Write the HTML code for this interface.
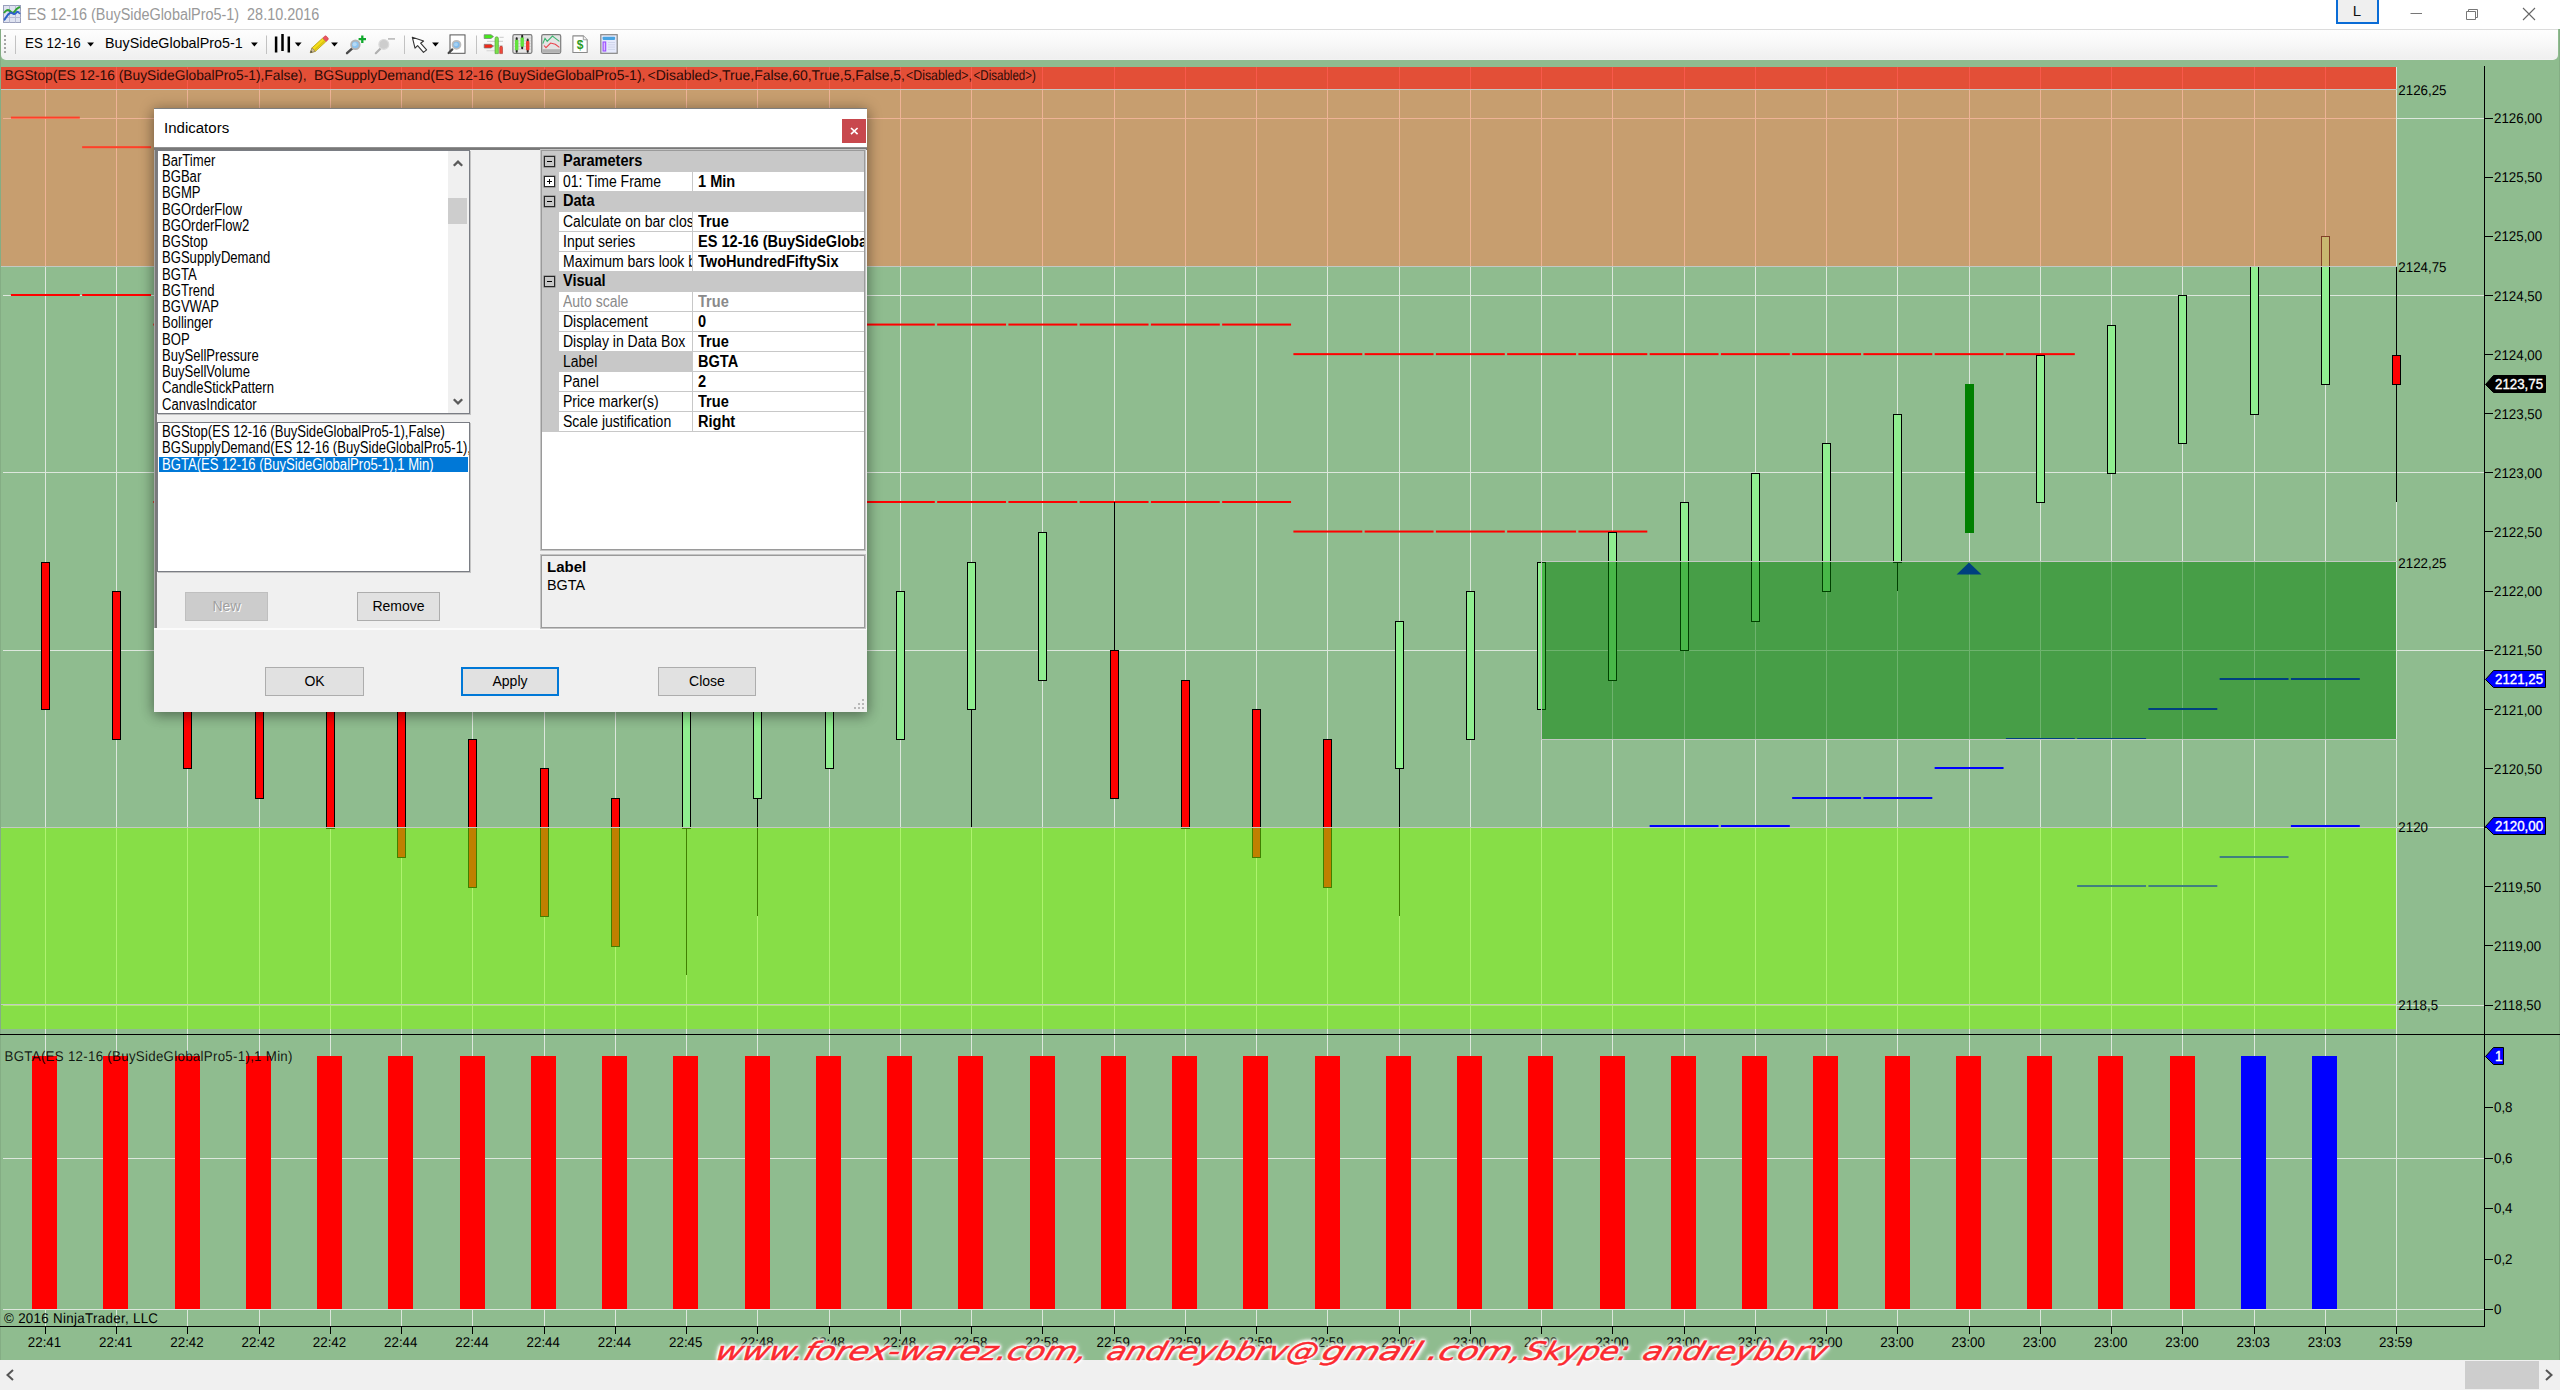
<!DOCTYPE html>
<html lang="en"><head><meta charset="utf-8"><title>ES 12-16 (BuySideGlobalPro5-1)</title>
<style>

html,body{margin:0;padding:0;}
body{width:2560px;height:1390px;overflow:hidden;position:relative;background:#fff;font-family:"Liberation Sans",sans-serif;}
.abs{position:absolute;}
.chart{position:absolute;left:0;top:0;}
#titlebar{position:absolute;left:0;top:0;width:2560px;height:29px;background:#fff;}
#title{position:absolute;left:27px;top:5px;font-size:16px;color:#999;white-space:pre;line-height:20px;transform-origin:0 50%;transform:scaleX(.9);}
#toolbar{position:absolute;left:1px;top:29px;width:2557px;height:31px;background:linear-gradient(#fefefe,#f8f8f8 45%,#efefef 96%,#f4f4f5);border-radius:0 0 5px 5px;border-top:1px solid #dcdcdc;box-sizing:border-box;}
.tbt{position:absolute;top:4px;font-size:15px;color:#000;white-space:pre;line-height:18px;transform-origin:0 50%;}
.sep{position:absolute;top:5px;width:1px;height:19px;background:#c4c4c4;}
.dd{position:absolute;top:12px;width:0;height:0;border-left:3.5px solid transparent;border-right:3.5px solid transparent;border-top:4px solid #000;}
#scroll{position:absolute;left:0;top:1360px;width:2560px;height:30px;background:#f0f0f0;}
#thumb{position:absolute;left:2465px;top:1px;width:74px;height:28px;background:#cdcdcd;}
#wm{position:absolute;left:0;top:1330.5px;width:2560px;height:40px;font-family:"DejaVu Sans","Liberation Sans",sans-serif;font-style:oblique;font-size:25.5px;line-height:40px;color:#fb2a30;-webkit-text-stroke:.5px #fb2a30;white-space:pre;text-shadow:0 0 2px #fff,0 0 2px #fff,0 0 3px #fff,0 0 3px #fff,0 0 3px #fff,0 0 4px #fff,0 0 4px #fff,0 0 5px #fff,0 0 6px #fff;}
#wm span{position:absolute;top:0;transform-origin:0 29px;}


#dlg{position:absolute;left:154px;top:109px;width:713px;height:603px;background:#f0f0f0;box-shadow:0 0 13px 1px rgba(0,0,0,.28),0 5px 12px rgba(0,0,0,.22);}
#dlg .tb{position:absolute;left:0;top:0;width:713px;height:39px;background:#fff;}
#dlg .tt{position:absolute;left:10px;top:9px;font-size:15.5px;line-height:20px;color:#000;white-space:pre;transform-origin:0 50%;transform:scaleX(.97);}
#dlg .x{position:absolute;left:688px;top:10px;width:24px;height:24px;background:#c8484d;color:#fff;text-align:center;}
#dlg .edge{position:absolute;left:0;top:38px;width:713px;height:3px;background:linear-gradient(#a0a0a0,#777 45%,#7c7c7c);}
#dlg .topb{position:absolute;left:0;top:-1px;width:713px;height:1px;background:#7e7e7e;}
.lb{position:absolute;background:#fff;border:1px solid #7a7d84;box-shadow:1px 1px 0 #c4c4c4;box-sizing:border-box;overflow:hidden;}
.li{position:absolute;left:4px;font-size:16px;line-height:16px;white-space:pre;color:#000;transform-origin:0 50%;transform:scaleX(.8175);}
.btn{position:absolute;box-sizing:border-box;border:1px solid #adadad;background:#e1e1e1;text-align:center;font-size:14px;color:#000;white-space:pre;}
.btn span{display:inline-block;}
#pg{position:absolute;left:387px;top:41px;width:324px;height:400px;background:#fff;border:1px solid #9a9a9a;box-sizing:border-box;box-shadow:0 0 0 1px #c4c4c4;overflow:hidden;}
.row{position:absolute;left:0;width:322px;height:20px;}
.cat{background:#c8c8c8;}
.gut{position:absolute;left:0;top:0;width:17px;height:100%;background:#c8c8c8;}
.lab{position:absolute;left:17px;top:0;width:133px;bottom:0;border-bottom:1px solid #c8c8c8;border-right:1px solid #c8c8c8;overflow:hidden;}
.val{position:absolute;left:151px;top:0;width:171px;bottom:0;border-bottom:1px solid #c8c8c8;overflow:hidden;}
.pt{position:absolute;top:-.5px;font-size:16px;line-height:18px;white-space:pre;transform-origin:0 50%;color:#000;transform:scaleX(.875);}
.pb{font-weight:bold;transform:scaleX(.91);}
.box{position:absolute;left:2px;top:4px;width:9px;height:9px;border:1px solid #262626;box-shadow:0 0 0 .5px rgba(40,40,40,.55);box-sizing:content-box;}
.box i{position:absolute;left:2px;top:4px;width:5px;height:1px;background:#000;}
.box b{position:absolute;left:4px;top:2px;width:1px;height:5px;background:#000;}
#desc{position:absolute;left:387px;top:446px;width:324px;height:73px;border:1px solid #9a9a9a;box-sizing:border-box;box-shadow:0 0 0 1px #c4c4c4;}

</style></head><body>
<svg class="chart" width="2560" height="1390" viewBox="0 0 2560 1390" shape-rendering="crispEdges">
<rect x="0" y="29" width="2560" height="1331" fill="#8FBC8F"/>
<path d="M45 66V1326M116 66V1326M187 66V1326M259 66V1326M330 66V1326M401 66V1326M472 66V1326M544 66V1326M615 66V1326M686 66V1326M757 66V1326M829 66V1326M900 66V1326M971 66V1326M1042 66V1326M1114 66V1326M1185 66V1326M1256 66V1326M1327 66V1326M1399 66V1326M1470 66V1326M1541 66V1326M1612 66V1326M1684 66V1326M1755 66V1326M1826 66V1326M1897 66V1326M1969 66V1326M2040 66V1326M2111 66V1326M2182 66V1326M2254 66V1326M2325 66V1326M2396 66V1326M2 118H2484M2 295H2484M2 472H2484M2 650H2484M2 827H2484M2 1005H2484M2 1158H2484M2 1309H2484" stroke="#dde7dd" stroke-width="1" fill="none" transform="translate(0.5,0.5)"/>
<rect x="32" y="1056" width="25" height="253" fill="#ff0000"/>
<rect x="103" y="1056" width="25" height="253" fill="#ff0000"/>
<rect x="175" y="1056" width="25" height="253" fill="#ff0000"/>
<rect x="246" y="1056" width="25" height="253" fill="#ff0000"/>
<rect x="317" y="1056" width="25" height="253" fill="#ff0000"/>
<rect x="388" y="1056" width="25" height="253" fill="#ff0000"/>
<rect x="460" y="1056" width="25" height="253" fill="#ff0000"/>
<rect x="531" y="1056" width="25" height="253" fill="#ff0000"/>
<rect x="602" y="1056" width="25" height="253" fill="#ff0000"/>
<rect x="673" y="1056" width="25" height="253" fill="#ff0000"/>
<rect x="745" y="1056" width="25" height="253" fill="#ff0000"/>
<rect x="816" y="1056" width="25" height="253" fill="#ff0000"/>
<rect x="887" y="1056" width="25" height="253" fill="#ff0000"/>
<rect x="958" y="1056" width="25" height="253" fill="#ff0000"/>
<rect x="1030" y="1056" width="25" height="253" fill="#ff0000"/>
<rect x="1101" y="1056" width="25" height="253" fill="#ff0000"/>
<rect x="1172" y="1056" width="25" height="253" fill="#ff0000"/>
<rect x="1243" y="1056" width="25" height="253" fill="#ff0000"/>
<rect x="1315" y="1056" width="25" height="253" fill="#ff0000"/>
<rect x="1386" y="1056" width="25" height="253" fill="#ff0000"/>
<rect x="1457" y="1056" width="25" height="253" fill="#ff0000"/>
<rect x="1528" y="1056" width="25" height="253" fill="#ff0000"/>
<rect x="1600" y="1056" width="25" height="253" fill="#ff0000"/>
<rect x="1671" y="1056" width="25" height="253" fill="#ff0000"/>
<rect x="1742" y="1056" width="25" height="253" fill="#ff0000"/>
<rect x="1813" y="1056" width="25" height="253" fill="#ff0000"/>
<rect x="1885" y="1056" width="25" height="253" fill="#ff0000"/>
<rect x="1956" y="1056" width="25" height="253" fill="#ff0000"/>
<rect x="2027" y="1056" width="25" height="253" fill="#ff0000"/>
<rect x="2098" y="1056" width="25" height="253" fill="#ff0000"/>
<rect x="2170" y="1056" width="25" height="253" fill="#ff0000"/>
<rect x="2241" y="1056" width="25" height="253" fill="#0000ff"/>
<rect x="2312" y="1056" width="25" height="253" fill="#0000ff"/>
<g shape-rendering="auto">
<rect x="10.9" y="116.6" width="68.9" height="2" fill="#ff0000"/>
<rect x="82.15" y="146.17" width="68.9" height="2" fill="#ff0000"/>
<rect x="10.9" y="294" width="68.9" height="2" fill="#ff0000"/>
<rect x="82.15" y="294" width="68.9" height="2" fill="#ff0000"/>
<rect x="153.4" y="323.57" width="68.9" height="2" fill="#ff0000"/>
<rect x="224.65" y="323.57" width="68.9" height="2" fill="#ff0000"/>
<rect x="295.9" y="323.57" width="68.9" height="2" fill="#ff0000"/>
<rect x="367.15" y="323.57" width="68.9" height="2" fill="#ff0000"/>
<rect x="438.4" y="323.57" width="68.9" height="2" fill="#ff0000"/>
<rect x="509.65" y="323.57" width="68.9" height="2" fill="#ff0000"/>
<rect x="580.9" y="323.57" width="68.9" height="2" fill="#ff0000"/>
<rect x="652.15" y="323.57" width="68.9" height="2" fill="#ff0000"/>
<rect x="723.4" y="323.57" width="68.9" height="2" fill="#ff0000"/>
<rect x="794.65" y="323.57" width="68.9" height="2" fill="#ff0000"/>
<rect x="865.9" y="323.57" width="68.9" height="2" fill="#ff0000"/>
<rect x="937.15" y="323.57" width="68.9" height="2" fill="#ff0000"/>
<rect x="1008.4" y="323.57" width="68.9" height="2" fill="#ff0000"/>
<rect x="1079.65" y="323.57" width="68.9" height="2" fill="#ff0000"/>
<rect x="1150.9" y="323.57" width="68.9" height="2" fill="#ff0000"/>
<rect x="1222.15" y="323.57" width="68.9" height="2" fill="#ff0000"/>
<rect x="1293.4" y="353.14" width="68.9" height="2" fill="#ff0000"/>
<rect x="1364.65" y="353.14" width="68.9" height="2" fill="#ff0000"/>
<rect x="1435.9" y="353.14" width="68.9" height="2" fill="#ff0000"/>
<rect x="1507.15" y="353.14" width="68.9" height="2" fill="#ff0000"/>
<rect x="1578.4" y="353.14" width="68.9" height="2" fill="#ff0000"/>
<rect x="1649.65" y="353.14" width="68.9" height="2" fill="#ff0000"/>
<rect x="1720.9" y="353.14" width="68.9" height="2" fill="#ff0000"/>
<rect x="1792.15" y="353.14" width="68.9" height="2" fill="#ff0000"/>
<rect x="1863.4" y="353.14" width="68.9" height="2" fill="#ff0000"/>
<rect x="1934.65" y="353.14" width="68.9" height="2" fill="#ff0000"/>
<rect x="2005.9" y="353.14" width="68.9" height="2" fill="#ff0000"/>
<rect x="153.4" y="500.98" width="68.9" height="2" fill="#ff0000"/>
<rect x="224.65" y="500.98" width="68.9" height="2" fill="#ff0000"/>
<rect x="295.9" y="500.98" width="68.9" height="2" fill="#ff0000"/>
<rect x="367.15" y="500.98" width="68.9" height="2" fill="#ff0000"/>
<rect x="438.4" y="500.98" width="68.9" height="2" fill="#ff0000"/>
<rect x="509.65" y="500.98" width="68.9" height="2" fill="#ff0000"/>
<rect x="580.9" y="500.98" width="68.9" height="2" fill="#ff0000"/>
<rect x="652.15" y="500.98" width="68.9" height="2" fill="#ff0000"/>
<rect x="723.4" y="500.98" width="68.9" height="2" fill="#ff0000"/>
<rect x="794.65" y="500.98" width="68.9" height="2" fill="#ff0000"/>
<rect x="865.9" y="500.98" width="68.9" height="2" fill="#ff0000"/>
<rect x="937.15" y="500.98" width="68.9" height="2" fill="#ff0000"/>
<rect x="1008.4" y="500.98" width="68.9" height="2" fill="#ff0000"/>
<rect x="1079.65" y="500.98" width="68.9" height="2" fill="#ff0000"/>
<rect x="1150.9" y="500.98" width="68.9" height="2" fill="#ff0000"/>
<rect x="1222.15" y="500.98" width="68.9" height="2" fill="#ff0000"/>
<rect x="1293.4" y="530.54" width="68.9" height="2" fill="#ff0000"/>
<rect x="1364.65" y="530.54" width="68.9" height="2" fill="#ff0000"/>
<rect x="1435.9" y="530.54" width="68.9" height="2" fill="#ff0000"/>
<rect x="1507.15" y="530.54" width="68.9" height="2" fill="#ff0000"/>
<rect x="1578.4" y="530.54" width="68.9" height="2" fill="#ff0000"/>
<rect x="1649.65" y="825" width="68.9" height="2" fill="#0000ff"/>
<rect x="1720.9" y="825" width="68.9" height="2" fill="#0000ff"/>
<rect x="1792.15" y="797" width="68.9" height="2" fill="#0000ff"/>
<rect x="1863.4" y="797" width="68.9" height="2" fill="#0000ff"/>
<rect x="1934.65" y="767" width="68.9" height="2" fill="#0000ff"/>
<rect x="2005.9" y="738" width="68.9" height="2" fill="#0000ff"/>
<rect x="2077.15" y="738" width="68.9" height="2" fill="#0000ff"/>
<rect x="2148.4" y="708" width="68.9" height="2" fill="#0000ff"/>
<rect x="2219.65" y="678" width="68.9" height="2" fill="#0000ff"/>
<rect x="2290.9" y="678" width="68.9" height="2" fill="#0000ff"/>
<rect x="2077.15" y="885" width="68.9" height="2" fill="#0000ff"/>
<rect x="2148.4" y="885" width="68.9" height="2" fill="#0000ff"/>
<rect x="2219.65" y="856" width="68.9" height="2" fill="#0000ff"/>
<rect x="2290.9" y="825" width="68.9" height="2" fill="#0000ff"/>
</g>
<rect x="41.5" y="562.5" width="8" height="147" fill="#ff0000" stroke="#000" stroke-width="1"/>
<rect x="112.5" y="591.5" width="8" height="148" fill="#ff0000" stroke="#000" stroke-width="1"/>
<rect x="183.5" y="621.5" width="8" height="147" fill="#ff0000" stroke="#000" stroke-width="1"/>
<rect x="255.5" y="650.5" width="8" height="148" fill="#ff0000" stroke="#000" stroke-width="1"/>
<rect x="326.5" y="680.5" width="8" height="148" fill="#ff0000" stroke="#000" stroke-width="1"/>
<rect x="397.5" y="709.5" width="8" height="148" fill="#ff0000" stroke="#000" stroke-width="1"/>
<rect x="468.5" y="739.5" width="8" height="148" fill="#ff0000" stroke="#000" stroke-width="1"/>
<rect x="540.5" y="768.5" width="8" height="148" fill="#ff0000" stroke="#000" stroke-width="1"/>
<rect x="611.5" y="798.5" width="8" height="148" fill="#ff0000" stroke="#000" stroke-width="1"/>
<rect x="686" y="828" width="1" height="147" fill="#000"/>
<rect x="682.5" y="680.5" width="8" height="148" fill="#90ee90" stroke="#000" stroke-width="1"/>
<rect x="757" y="798" width="1" height="118" fill="#000"/>
<rect x="753.5" y="650.5" width="8" height="148" fill="#90ee90" stroke="#000" stroke-width="1"/>
<rect x="825.5" y="621.5" width="8" height="147" fill="#90ee90" stroke="#000" stroke-width="1"/>
<rect x="896.5" y="591.5" width="8" height="148" fill="#90ee90" stroke="#000" stroke-width="1"/>
<rect x="971" y="709" width="1" height="119" fill="#000"/>
<rect x="967.5" y="562.5" width="8" height="147" fill="#90ee90" stroke="#000" stroke-width="1"/>
<rect x="1038.5" y="532.5" width="8" height="148" fill="#90ee90" stroke="#000" stroke-width="1"/>
<rect x="1114" y="502" width="1" height="148" fill="#000"/>
<rect x="1110.5" y="650.5" width="8" height="148" fill="#ff0000" stroke="#000" stroke-width="1"/>
<rect x="1181.5" y="680.5" width="8" height="148" fill="#ff0000" stroke="#000" stroke-width="1"/>
<rect x="1252.5" y="709.5" width="8" height="148" fill="#ff0000" stroke="#000" stroke-width="1"/>
<rect x="1323.5" y="739.5" width="8" height="148" fill="#ff0000" stroke="#000" stroke-width="1"/>
<rect x="1399" y="768" width="1" height="148" fill="#000"/>
<rect x="1395.5" y="621.5" width="8" height="147" fill="#90ee90" stroke="#000" stroke-width="1"/>
<rect x="1466.5" y="591.5" width="8" height="148" fill="#90ee90" stroke="#000" stroke-width="1"/>
<rect x="1537.5" y="562.5" width="8" height="147" fill="#90ee90" stroke="#000" stroke-width="1"/>
<rect x="1608.5" y="532.5" width="8" height="148" fill="#90ee90" stroke="#000" stroke-width="1"/>
<rect x="1680.5" y="502.5" width="8" height="148" fill="#90ee90" stroke="#000" stroke-width="1"/>
<rect x="1751.5" y="473.5" width="8" height="148" fill="#90ee90" stroke="#000" stroke-width="1"/>
<rect x="1822.5" y="443.5" width="8" height="148" fill="#90ee90" stroke="#000" stroke-width="1"/>
<rect x="1897" y="562" width="1" height="29" fill="#000"/>
<rect x="1893.5" y="414.5" width="8" height="148" fill="#90ee90" stroke="#000" stroke-width="1"/>
<rect x="1965" y="384" width="9" height="149" fill="#008000"/>
<rect x="2036.5" y="355.5" width="8" height="147" fill="#90ee90" stroke="#000" stroke-width="1"/>
<rect x="2107.5" y="325.5" width="8" height="148" fill="#90ee90" stroke="#000" stroke-width="1"/>
<rect x="2178.5" y="295.5" width="8" height="148" fill="#90ee90" stroke="#000" stroke-width="1"/>
<rect x="2250.5" y="266.5" width="8" height="148" fill="#90ee90" stroke="#000" stroke-width="1"/>
<rect x="2321.5" y="236.5" width="8" height="148" fill="#90ee90" stroke="#000" stroke-width="1"/>
<rect x="2396" y="266" width="1" height="89" fill="#000"/>
<rect x="2396" y="384" width="1" height="118" fill="#000"/>
<rect x="2392.5" y="355.5" width="8" height="29" fill="#ff0000" stroke="#000" stroke-width="1"/>
<path d="M1969.05 562.5L1981.55 574.5H1956.55Z" fill="#0000ff" shape-rendering="auto"/>
<rect x="1" y="67" width="2395" height="199" fill="rgb(255,127,80)" fill-opacity=".5"/>
<rect x="1" y="67" width="2395" height="22" fill="rgb(255,0,0)" fill-opacity=".5"/>
<rect x="1542" y="562" width="854" height="177" fill="rgb(0,128,0)" fill-opacity=".5"/>
<rect x="1" y="828" width="2395" height="201" fill="rgb(127,255,0)" fill-opacity=".5"/>
<path d="M1 89.500H2397M1 266.500H2397M1541 561.500H2397M1541 739.500H2397M1 827.500H2397M1 1004.500H2397M1541.500 561V740" stroke="#c3c9c3" stroke-width="1" fill="none"/>
<rect x="0" y="29" width="1" height="1331" fill="#84ad84"/><rect x="2559" y="29" width="1" height="1331" fill="#84ad84"/>
<rect x="0" y="1034" width="2560" height="1" fill="#000"/>
<rect x="2484" y="66" width="1" height="1261" fill="#000"/>
<rect x="0" y="1326" width="2485" height="1" fill="#000"/>
<rect x="2485" y="118" width="8" height="1" fill="#000"/><rect x="2485" y="177" width="8" height="1" fill="#000"/><rect x="2485" y="236" width="8" height="1" fill="#000"/><rect x="2485" y="295" width="8" height="1" fill="#000"/><rect x="2485" y="354" width="8" height="1" fill="#000"/><rect x="2485" y="413" width="8" height="1" fill="#000"/><rect x="2485" y="472" width="8" height="1" fill="#000"/><rect x="2485" y="531" width="8" height="1" fill="#000"/><rect x="2485" y="591" width="8" height="1" fill="#000"/><rect x="2485" y="650" width="8" height="1" fill="#000"/><rect x="2485" y="709" width="8" height="1" fill="#000"/><rect x="2485" y="768" width="8" height="1" fill="#000"/><rect x="2485" y="827" width="8" height="1" fill="#000"/><rect x="2485" y="886" width="8" height="1" fill="#000"/><rect x="2485" y="945" width="8" height="1" fill="#000"/><rect x="2485" y="1005" width="8" height="1" fill="#000"/><rect x="2485" y="1107" width="8" height="1" fill="#000"/><rect x="2485" y="1158" width="8" height="1" fill="#000"/><rect x="2485" y="1208" width="8" height="1" fill="#000"/><rect x="2485" y="1259" width="8" height="1" fill="#000"/><rect x="2485" y="1309" width="8" height="1" fill="#000"/><rect x="45" y="1327" width="1" height="7" fill="#000"/><rect x="116" y="1327" width="1" height="7" fill="#000"/><rect x="187" y="1327" width="1" height="7" fill="#000"/><rect x="259" y="1327" width="1" height="7" fill="#000"/><rect x="330" y="1327" width="1" height="7" fill="#000"/><rect x="401" y="1327" width="1" height="7" fill="#000"/><rect x="472" y="1327" width="1" height="7" fill="#000"/><rect x="544" y="1327" width="1" height="7" fill="#000"/><rect x="615" y="1327" width="1" height="7" fill="#000"/><rect x="686" y="1327" width="1" height="7" fill="#000"/><rect x="757" y="1327" width="1" height="7" fill="#000"/><rect x="829" y="1327" width="1" height="7" fill="#000"/><rect x="900" y="1327" width="1" height="7" fill="#000"/><rect x="971" y="1327" width="1" height="7" fill="#000"/><rect x="1042" y="1327" width="1" height="7" fill="#000"/><rect x="1114" y="1327" width="1" height="7" fill="#000"/><rect x="1185" y="1327" width="1" height="7" fill="#000"/><rect x="1256" y="1327" width="1" height="7" fill="#000"/><rect x="1327" y="1327" width="1" height="7" fill="#000"/><rect x="1399" y="1327" width="1" height="7" fill="#000"/><rect x="1470" y="1327" width="1" height="7" fill="#000"/><rect x="1541" y="1327" width="1" height="7" fill="#000"/><rect x="1612" y="1327" width="1" height="7" fill="#000"/><rect x="1684" y="1327" width="1" height="7" fill="#000"/><rect x="1755" y="1327" width="1" height="7" fill="#000"/><rect x="1826" y="1327" width="1" height="7" fill="#000"/><rect x="1897" y="1327" width="1" height="7" fill="#000"/><rect x="1969" y="1327" width="1" height="7" fill="#000"/><rect x="2040" y="1327" width="1" height="7" fill="#000"/><rect x="2111" y="1327" width="1" height="7" fill="#000"/><rect x="2182" y="1327" width="1" height="7" fill="#000"/><rect x="2254" y="1327" width="1" height="7" fill="#000"/><rect x="2325" y="1327" width="1" height="7" fill="#000"/><rect x="2396" y="1327" width="1" height="7" fill="#000"/>
<g font-family="Liberation Sans, sans-serif" font-size="13.33" fill="#000" shape-rendering="auto" text-rendering="geometricPrecision">
<text transform="translate(2494 123.2) scale(1 1.06)">2126,00</text>
<text transform="translate(2494 182.33) scale(1 1.06)">2125,50</text>
<text transform="translate(2494 241.47) scale(1 1.06)">2125,00</text>
<text transform="translate(2494 300.6) scale(1 1.06)">2124,50</text>
<text transform="translate(2494 359.74) scale(1 1.06)">2124,00</text>
<text transform="translate(2494 418.88) scale(1 1.06)">2123,50</text>
<text transform="translate(2494 478.01) scale(1 1.06)">2123,00</text>
<text transform="translate(2494 537.14) scale(1 1.06)">2122,50</text>
<text transform="translate(2494 596.28) scale(1 1.06)">2122,00</text>
<text transform="translate(2494 655.42) scale(1 1.06)">2121,50</text>
<text transform="translate(2494 714.55) scale(1 1.06)">2121,00</text>
<text transform="translate(2494 773.69) scale(1 1.06)">2120,50</text>
<text transform="translate(2494 832.82) scale(1 1.06)">2120,00</text>
<text transform="translate(2494 891.96) scale(1 1.06)">2119,50</text>
<text transform="translate(2494 951.09) scale(1 1.06)">2119,00</text>
<text transform="translate(2494 1010.23) scale(1 1.06)">2118,50</text>
<text transform="translate(2494 1112.2) scale(1 1.06)">0,8</text>
<text transform="translate(2494 1163.2) scale(1 1.06)">0,6</text>
<text transform="translate(2494 1213.2) scale(1 1.06)">0,4</text>
<text transform="translate(2494 1264.2) scale(1 1.06)">0,2</text>
<text transform="translate(2494 1314.2) scale(1 1.06)">0</text>
<text transform="translate(2398.300 94.7) scale(1 1.06)">2126,25</text>
<text transform="translate(2398.300 272) scale(1 1.06)">2124,75</text>
<text transform="translate(2398.300 567.5) scale(1 1.06)">2122,25</text>
<text transform="translate(2398.300 831.9) scale(1 1.06)">2120</text>
<text transform="translate(2398.300 1009.9) scale(1 1.06)">2118,5</text>
<text transform="translate(44.5 1347) scale(1 1.06)" text-anchor="middle">22:41</text>
<text transform="translate(115.75 1347) scale(1 1.06)" text-anchor="middle">22:41</text>
<text transform="translate(187 1347) scale(1 1.06)" text-anchor="middle">22:42</text>
<text transform="translate(258.25 1347) scale(1 1.06)" text-anchor="middle">22:42</text>
<text transform="translate(329.5 1347) scale(1 1.06)" text-anchor="middle">22:42</text>
<text transform="translate(400.75 1347) scale(1 1.06)" text-anchor="middle">22:44</text>
<text transform="translate(472 1347) scale(1 1.06)" text-anchor="middle">22:44</text>
<text transform="translate(543.25 1347) scale(1 1.06)" text-anchor="middle">22:44</text>
<text transform="translate(614.5 1347) scale(1 1.06)" text-anchor="middle">22:44</text>
<text transform="translate(685.75 1347) scale(1 1.06)" text-anchor="middle">22:45</text>
<text transform="translate(757 1347) scale(1 1.06)" text-anchor="middle">22:48</text>
<text transform="translate(828.25 1347) scale(1 1.06)" text-anchor="middle">22:48</text>
<text transform="translate(899.5 1347) scale(1 1.06)" text-anchor="middle">22:48</text>
<text transform="translate(970.75 1347) scale(1 1.06)" text-anchor="middle">22:58</text>
<text transform="translate(1042 1347) scale(1 1.06)" text-anchor="middle">22:58</text>
<text transform="translate(1113.25 1347) scale(1 1.06)" text-anchor="middle">22:59</text>
<text transform="translate(1184.5 1347) scale(1 1.06)" text-anchor="middle">22:59</text>
<text transform="translate(1255.75 1347) scale(1 1.06)" text-anchor="middle">22:59</text>
<text transform="translate(1327 1347) scale(1 1.06)" text-anchor="middle">22:59</text>
<text transform="translate(1398.25 1347) scale(1 1.06)" text-anchor="middle">23:00</text>
<text transform="translate(1469.5 1347) scale(1 1.06)" text-anchor="middle">23:00</text>
<text transform="translate(1540.75 1347) scale(1 1.06)" text-anchor="middle">23:00</text>
<text transform="translate(1612 1347) scale(1 1.06)" text-anchor="middle">23:00</text>
<text transform="translate(1683.25 1347) scale(1 1.06)" text-anchor="middle">23:00</text>
<text transform="translate(1754.5 1347) scale(1 1.06)" text-anchor="middle">23:00</text>
<text transform="translate(1825.75 1347) scale(1 1.06)" text-anchor="middle">23:00</text>
<text transform="translate(1897 1347) scale(1 1.06)" text-anchor="middle">23:00</text>
<text transform="translate(1968.25 1347) scale(1 1.06)" text-anchor="middle">23:00</text>
<text transform="translate(2039.5 1347) scale(1 1.06)" text-anchor="middle">23:00</text>
<text transform="translate(2110.75 1347) scale(1 1.06)" text-anchor="middle">23:00</text>
<text transform="translate(2182 1347) scale(1 1.06)" text-anchor="middle">23:00</text>
<text transform="translate(2253.25 1347) scale(1 1.06)" text-anchor="middle">23:03</text>
<text transform="translate(2324.5 1347) scale(1 1.06)" text-anchor="middle">23:03</text>
<text transform="translate(2395.75 1347) scale(1 1.06)" text-anchor="middle">23:59</text>
<text transform="translate(4.5 80.200) scale(1 1.06)" fill="#2b0a06" textLength="302" lengthAdjust="spacingAndGlyphs">BGStop(ES 12-16 (BuySideGlobalPro5-1),False),</text>
<text transform="translate(314 80.200) scale(1 1.06)" fill="#2b0a06" textLength="331.5" lengthAdjust="spacingAndGlyphs">BGSupplyDemand(ES 12-16 (BuySideGlobalPro5-1),</text>
<text transform="translate(647.6 80.200) scale(1 1.06)" fill="#2b0a06" textLength="257.4" lengthAdjust="spacingAndGlyphs">&lt;Disabled&gt;,True,False,60,True,5,False,5,</text>
<text transform="translate(906 80.200) scale(1 1.06)" fill="#2b0a06" textLength="66" lengthAdjust="spacingAndGlyphs">&lt;Disabled&gt;,</text>
<text transform="translate(973.6 80.200) scale(1 1.06)" fill="#2b0a06" textLength="62.2" lengthAdjust="spacingAndGlyphs">&lt;Disabled&gt;)</text>
<text transform="translate(4.500 1061.200) scale(1 1.06)" fill-opacity=".88" textLength="288" lengthAdjust="spacing">BGTA(ES 12-16 (BuySideGlobalPro5-1),1 Min)</text>
<text transform="translate(4 1323.200) scale(1 1.06)" textLength="154" lengthAdjust="spacing">© 2016 NinjaTrader, LLC</text>
</g>
<path d="M2485.5 384.5L2493.5 375.5H2545.5V392.5H2493.5Z" fill="#000" stroke="#000" stroke-width="1" shape-rendering="auto"/><text transform="translate(2495 389) scale(1 1.06)" font-family="Liberation Sans, sans-serif" font-size="13.33" fill="#fff" stroke="#fff" stroke-width=".35" shape-rendering="auto">2123,75</text>
<path d="M2485.5 679.5L2493.5 670.5H2545.5V687.5H2493.5Z" fill="#0000ff" stroke="#000" stroke-width="1" shape-rendering="auto"/><text transform="translate(2495 684) scale(1 1.06)" font-family="Liberation Sans, sans-serif" font-size="13.33" fill="#fff" stroke="#fff" stroke-width=".35" shape-rendering="auto">2121,25</text>
<path d="M2485.5 826.5L2493.5 817.5H2545.5V834.5H2493.5Z" fill="#0000ff" stroke="#000" stroke-width="1" shape-rendering="auto"/><text transform="translate(2495 831) scale(1 1.06)" font-family="Liberation Sans, sans-serif" font-size="13.33" fill="#fff" stroke="#fff" stroke-width=".35" shape-rendering="auto">2120,00</text>
<path d="M2485.5 1056.5L2493.5 1047.5H2503.5V1064.5H2493.5Z" fill="#0000ff" stroke="#000" stroke-width="1" shape-rendering="auto"/><text transform="translate(2495 1061) scale(1 1.06)" font-family="Liberation Sans, sans-serif" font-size="13.33" fill="#fff" stroke="#fff" stroke-width=".35" shape-rendering="auto">1</text>
</svg>
<div id="titlebar">
<svg class="abs" style="left:3px;top:5px" width="18" height="18" viewBox="0 0 18 18"><rect x=".5" y=".5" width="17" height="17" fill="#dfe3f0" stroke="#9aa0bc"/><path d="M.5 6.5H17.5M.5 12.5H17.5M6.5 .5V17.5M12.5 .5V17.5" stroke="#b8bcd4" stroke-width="1"/><path d="M1 8C3 5 5 4 7 6S10 9 12 6 15 3 17 2" stroke="#2fa12f" stroke-width="2" fill="none"/><path d="M1 15C3 14 4 9 7 8S11 11 13 8 16 9 17 8" stroke="#2a60c8" stroke-width="2" fill="none"/></svg>
<div id="title">ES 12-16 (BuySideGlobalPro5-1)  28.10.2016</div>
<div class="abs" style="left:2336px;top:0;width:43px;height:24px;box-sizing:border-box;border:2px solid #0a6cd6;border-top:none;background:#efefef;"></div>
<div class="abs" style="left:2336px;top:0;width:42px;height:22px;text-align:center;font-size:15px;line-height:22px;color:#111">L</div>
<svg class="abs" style="left:2400px;top:0" width="160" height="29" viewBox="0 0 160 29"><path d="M10.5 13.5H22" stroke="#777" stroke-width="1" fill="none"/><path d="M66.5 11.5H75.5V19.500H66.5ZM68.5 11.5V9.5H77.5V17.5H75.5" stroke="#777" stroke-width="1" fill="none"/><path d="M123 8L135 20M135 8L123 20" stroke="#666" stroke-width="1.1" fill="none"/></svg>
</div>
<div id="toolbar">
<div class="tbt" id="tb1" style="left:24px;transform:scaleX(.89)">ES 12-16</div>
<div class="tbt" id="tb2" style="left:104px;transform:scaleX(.955)">BuySideGlobalPro5-1</div>
</div>
<svg class="abs" style="left:0;top:28px" width="640" height="34" viewBox="0 28 640 34">
<g fill="#a5a5a5"><rect x="4" y="35" width="2" height="2"/><rect x="4" y="39" width="2" height="2"/><rect x="4" y="43" width="2" height="2"/><rect x="4" y="47" width="2" height="2"/><rect x="4" y="51" width="2" height="2"/></g>
<path d="M15.500 35.500V54M266.500 35.500V54M404.500 35.500V54M476.500 35.500V54" stroke="#c2c2c2" stroke-width="1" fill="none"/>
<path d="M87.2 42.600H94.0L90.6 46.400Z" fill="#000"/>
<path d="M251.0 42.600H257.8L254.4 46.400Z" fill="#000"/>
<path d="M294.8 42.600H301.6L298.2 46.400Z" fill="#000"/>
<path d="M331.1 42.600H337.9L334.5 46.400Z" fill="#000"/>
<path d="M432.1 42.600H438.9L435.5 46.400Z" fill="#000"/>
<path d="M276.100 36.600V52.600M282.500 34V51M288.800 36.600V52.600" stroke="#000" stroke-width="2.500" fill="none"/>
<g transform="translate(310.300,52.700) rotate(-42.500)"><path d="M0 0L4.600 -2.400H18.800V2.400H4.600Z" fill="#f4dd1a" stroke="#b8a212" stroke-width=".8" stroke-linejoin="round"/><path d="M19.300 -2.400H21.600Q23 -2.400 23 -1.100V1.100Q23 2.400 21.600 2.400H19.300Z" fill="#ea5560" stroke="#c8404a" stroke-width=".6"/><path d="M0 0L4.600 -2.400V2.400Z" fill="#cdbb98" stroke="#8a7a5a" stroke-width=".6" stroke-linejoin="round"/><path d="M0 0L1.900 -1.100V1.100Z" fill="#444"/><path d="M5 .9H18.300" stroke="#d8c010" stroke-width="1.200"/></g>
<path d="M347 53.200L352.300 48.400" stroke="#4a4a4a" stroke-width="2.400" stroke-linecap="round"/>
<circle cx="355.400" cy="44.800" r="4.300" fill="#8cc3ef" stroke="#b4b4b4" stroke-width="1.800"/><circle cx="354.700" cy="44.200" r="2" fill="#b5daf6"/>
<path d="M362.300 35.500V42.900M358.600 39.200H366" stroke="#10a82c" stroke-width="2.300" fill="none"/>
<path d="M375.800 53.200L380.300 48.800" stroke="#b0b0b0" stroke-width="2.200" stroke-linecap="round"/>
<circle cx="383.800" cy="44.400" r="4.900" fill="#cdcdcd" stroke="#dadada" stroke-width="1.200"/>
<path d="M388 38.900H395" stroke="#bdbdbd" stroke-width="1.700"/>
<path d="M412.300 37.200L415 48.200L417.600 45.600L423.500 52.400L426.600 49.800L420.600 43.200L423.600 41Z" fill="#fff" stroke="#333" stroke-width="1.100" stroke-linejoin="round"/>
<rect x="450" y="34.900" width="15" height="18.400" fill="#fff" stroke="#555" stroke-width="1"/>
<path d="M448.600 53L452.300 49.400" stroke="#444" stroke-width="2.200" stroke-linecap="round"/>
<circle cx="456.500" cy="44.800" r="4" fill="#7fbaec" stroke="#bdbdbd" stroke-width="1.700"/><circle cx="456" cy="44.400" r="1.900" fill="#a6d2f4"/>
<path d="M499.500 37.400H503.700M487 41.400H503M487 45.800H503M486.500 50.800H495" stroke="#d4d4d4" stroke-width="1.100" fill="none"/>
<path d="M484.200 34.700H491L493.500 36.600L491 38.500H484.200Z" fill="#45e81c" stroke="#777" stroke-width=".7" stroke-linejoin="round"/>
<path d="M484.200 44.300H491L493.500 46.100L491 48H484.200Z" fill="#f02a1a" stroke="#777" stroke-width=".7" stroke-linejoin="round"/>
<path d="M495 53.600V38.400Q495 36.800 496.700 36.800Q498.400 36.800 498.400 38.400V53.600Z" fill="#7ae24a" stroke="#4a9a30" stroke-width=".6"/>
<path d="M499.700 53.600V47.400Q499.700 46.100 501.100 46.100Q502.500 46.100 502.500 47.400V53.600Z" fill="#f0483a" stroke="#a83a30" stroke-width=".6"/>
<rect x="512.900" y="34.700" width="19" height="18.600" rx="1.500" fill="#e6e6e6" stroke="#7c7c7c" stroke-width="1.200"/>
<path d="M514 38H531M514 40.800H531M514 43.600H531M514 46.400H531M514 49.200H531" stroke="#c6c6c6" stroke-width=".7" fill="none"/>
<path d="M516.700 38.300V51.800M522.200 35.800V48.200M527.700 39.500V51.800" stroke="#222" stroke-width="2" stroke-linecap="round" fill="none"/>
<rect x="515" y="39.800" width="3.400" height="10.400" rx="1" fill="#62e23c"/><rect x="520.500" y="37.500" width="3.400" height="9.200" rx="1" fill="#62e23c"/><rect x="526" y="41" width="3.400" height="9.200" rx="1" fill="#ee3c32"/>
<rect x="541.700" y="34.700" width="19" height="18.600" rx="1.500" fill="#e4e4e4" stroke="#7c7c7c" stroke-width="1.200"/>
<rect x="542.300" y="49.200" width="17.800" height="3.500" fill="#b2b2b2"/>
<path d="M542.800 43.600L545 38.300L547.200 41.400L552.500 36.100L554.100 37.400L559.400 41.400" stroke="#3bb46e" stroke-width="1.100" fill="none"/>
<path d="M544 45.500L546 47.700L550.600 43L555.300 44.200L559.400 47.400" stroke="#ea444c" stroke-width="1.100" fill="none"/>
<path d="M572.900 35.900H583.300L587.200 39.800V52.500H572.900Z" fill="#fff" stroke="#8a8a8a" stroke-width="1.100" stroke-linejoin="round"/>
<path d="M583.300 35.900V39.800H587.200" fill="#f2f2f2" stroke="#8a8a8a" stroke-width=".8" stroke-linejoin="round"/>
<text x="580" y="48.800" font-family="Liberation Sans,sans-serif" font-weight="bold" font-size="12" fill="#2a9a22" text-anchor="middle">$</text>
<rect x="600.800" y="34.700" width="16.400" height="18.600" fill="#e6eafb" stroke="#868686" stroke-width="1.200"/>
<rect x="602.600" y="36.800" width="12.500" height="3.100" rx=".8" fill="#48a4e2"/>
<rect x="603.100" y="42" width="2.600" height="9" fill="#dcbcff" stroke="#9a4cff" stroke-width="1.100"/>
<path d="M608 42.500H615M608 44.800H615M608 47.100H615M608 49.400H615" stroke="#cdd2ea" stroke-width=".9" fill="none"/>
</svg>
<div id="scroll"><div id="thumb"></div><svg class="abs" style="left:4px;top:8px" width="12" height="14" viewBox="0 0 12 14"><path d="M9 2L3.500 7L9 12" stroke="#555" stroke-width="2" fill="none"/></svg><svg class="abs" style="left:2543px;top:8px" width="12" height="14" viewBox="0 0 12 14"><path d="M3 2L8.500 7L3 12" stroke="#555" stroke-width="2" fill="none"/></svg></div>
<div id="wm"><span style="left:713.5px;transform:scaleX(1.276) skewX(-14deg)">www.forex-warez.com, </span><span style="left:1105px;transform:scaleX(1.222) skewX(-14deg)">andreybbrv@ </span><span style="left:1319.5px;transform:scaleX(1.388) skewX(-14deg)">gmail </span><span style="left:1426px;transform:scaleX(1.33) skewX(-14deg)">.com, </span><span style="left:1523px;transform:scaleX(1.2) skewX(-14deg)">Skype: </span><span style="left:1640.5px;transform:scaleX(1.247) skewX(-14deg)">andreybbrv </span></div>
<div id="dlg">
<div class="tb"><div class="tt" id="dtt">Indicators</div><div class="x"><svg width="24" height="24" viewBox="0 0 24 24"><path d="M9 9L15.600 15.100M15.600 9L9 15.100" stroke="#fff" stroke-width="1.700"/></svg></div></div>
<div class="edge"></div><div class="topb"></div>
<div class="abs" style="left:0;top:41px;width:1px;height:478px;background:#a8a8a8"></div><div class="abs" style="left:1px;top:41px;width:2px;height:478px;background:#7a7a7a"></div>
<div class="abs" style="left:0;top:519px;width:713px;height:2px;background:#fbfbfb"></div>
<div class="lb" style="left:3px;top:41px;width:313px;height:264px">
<div class="li l1" style="top:1.8px">BarTimer</div>
<div class="li l1" style="top:18.1px">BGBar</div>
<div class="li l1" style="top:34.3px">BGMP</div>
<div class="li l1" style="top:50.5px">BGOrderFlow</div>
<div class="li l1" style="top:66.8px">BGOrderFlow2</div>
<div class="li l1" style="top:83.0px">BGStop</div>
<div class="li l1" style="top:99.3px">BGSupplyDemand</div>
<div class="li l1" style="top:115.5px">BGTA</div>
<div class="li l1" style="top:131.8px">BGTrend</div>
<div class="li l1" style="top:148.1px">BGVWAP</div>
<div class="li l1" style="top:164.3px">Bollinger</div>
<div class="li l1" style="top:180.6px">BOP</div>
<div class="li l1" style="top:196.8px">BuySellPressure</div>
<div class="li l1" style="top:213.1px">BuySellVolume</div>
<div class="li l1" style="top:229.3px">CandleStickPattern</div>
<div class="li l1" style="top:245.6px">CanvasIndicator</div>
<div class="abs" style="left:290px;top:0;width:21px;height:262px;background:#f0f0f0"></div>
<div class="abs" style="left:290px;top:47px;width:19px;height:26px;background:#cdcdcd"></div>
<svg class="abs" style="left:293.500px;top:7px" width="12" height="10" viewBox="0 0 12 10"><path d="M1.800 7.800L6 3.600L10.200 7.800" stroke="#5a5a5a" stroke-width="2.300" fill="none"/></svg>
<svg class="abs" style="left:293.500px;top:246px" width="12" height="10" viewBox="0 0 12 10"><path d="M1.800 2.200L6 6.400L10.200 2.200" stroke="#5a5a5a" stroke-width="2.300" fill="none"/></svg>
</div>
<div class="lb" style="left:3px;top:313px;width:313px;height:150px">
<div class="abs" style="left:1px;top:33.500px;width:309px;height:15.500px;background:#0078d7"></div>
<div class="li l2" style="top:1.2px;">BGStop(ES 12-16 (BuySideGlobalPro5-1),False)</div>
<div class="li l2" style="top:17.4px;">BGSupplyDemand(ES 12-16 (BuySideGlobalPro5-1),</div>
<div class="li l2" style="top:33.6px;color:#fff">BGTA(ES 12-16 (BuySideGlobalPro5-1),1 Min)</div>
</div>
<div class="btn" style="left:31px;top:483px;width:83px;height:29px;line-height:26px;background:#cccccc;border-color:#bfbfbf;color:#a0a0a0;text-shadow:1px 1px 0 #fff"><span class="bt">New</span></div>
<div class="btn" style="left:203px;top:483px;width:83px;height:29px;line-height:26px;"><span class="bt">Remove</span></div>
<div id="pg">
<div class="abs" style="left:0;top:0;width:322px;height:1px;background:#c8c8c8"></div>
<div class="row cat" style="top:1px;height:20px"><div class="box"><i></i></div><div class="pt pb pc" style="left:21px">Parameters</div></div>
<div class="row" style="top:21px;height:20px"><div class="gut" style=""><div class="box" style="background:#fff"><i></i><b></b></div></div><div class="lab" style=""><div class="pt pl" style="left:4px;top:.5px;">01: Time Frame</div></div><div class="val"><div class="pt pb pv" style="left:5px;top:.5px;">1 Min</div></div></div>
<div class="row cat" style="top:41px;height:20px"><div class="box"><i></i></div><div class="pt pb pc" style="left:21px">Data</div></div>
<div class="row" style="top:61px;height:20px"><div class="gut" style=""></div><div class="lab" style=""><div class="pt pl" style="left:4px;top:.5px;">Calculate on bar close</div></div><div class="val"><div class="pt pb pv" style="left:5px;top:.5px;">True</div></div></div>
<div class="row" style="top:81px;height:20px"><div class="gut" style=""></div><div class="lab" style=""><div class="pt pl" style="left:4px;top:.5px;">Input series</div></div><div class="val"><div class="pt pb pv" style="left:5px;top:.5px;">ES 12-16 (BuySideGlobalPro5-1)</div></div></div>
<div class="row" style="top:101px;height:20px"><div class="gut" style=""></div><div class="lab" style=""><div class="pt pl" style="left:4px;top:.5px;">Maximum bars look back</div></div><div class="val"><div class="pt pb pv" style="left:5px;top:.5px;">TwoHundredFiftySix</div></div></div>
<div class="row cat" style="top:121px;height:20px"><div class="box"><i></i></div><div class="pt pb pc" style="left:21px">Visual</div></div>
<div class="row" style="top:141px;height:20px"><div class="gut" style=""></div><div class="lab" style=""><div class="pt pl" style="left:4px;top:.5px;color:#8a8a8a;">Auto scale</div></div><div class="val"><div class="pt pb pv" style="left:5px;top:.5px;color:#8a8a8a;">True</div></div></div>
<div class="row" style="top:161px;height:20px"><div class="gut" style=""></div><div class="lab" style=""><div class="pt pl" style="left:4px;top:.5px;">Displacement</div></div><div class="val"><div class="pt pb pv" style="left:5px;top:.5px;">0</div></div></div>
<div class="row" style="top:181px;height:20px"><div class="gut" style=""></div><div class="lab" style=""><div class="pt pl" style="left:4px;top:.5px;">Display in Data Box</div></div><div class="val"><div class="pt pb pv" style="left:5px;top:.5px;">True</div></div></div>
<div class="row" style="top:201px;height:20px"><div class="gut" style=""></div><div class="lab" style="background:#c8c8c8;"><div class="pt pl" style="left:4px;top:.5px;">Label</div></div><div class="val"><div class="pt pb pv" style="left:5px;top:.5px;">BGTA</div></div></div>
<div class="row" style="top:221px;height:20px"><div class="gut" style=""></div><div class="lab" style=""><div class="pt pl" style="left:4px;top:.5px;">Panel</div></div><div class="val"><div class="pt pb pv" style="left:5px;top:.5px;">2</div></div></div>
<div class="row" style="top:241px;height:20px"><div class="gut" style=""></div><div class="lab" style=""><div class="pt pl" style="left:4px;top:.5px;">Price marker(s)</div></div><div class="val"><div class="pt pb pv" style="left:5px;top:.5px;">True</div></div></div>
<div class="row" style="top:261px;height:20px"><div class="gut" style=""></div><div class="lab" style=""><div class="pt pl" style="left:4px;top:.5px;">Scale justification</div></div><div class="val"><div class="pt pb pv" style="left:5px;top:.5px;">Right</div></div></div>
</div>
<div id="desc"><div class="abs" id="dl" style="left:5px;top:3px;font-size:15px;line-height:16px;font-weight:bold">Label</div><div class="abs" id="dv" style="left:5px;top:21px;font-size:15px;line-height:16px;transform-origin:0 50%;transform:scaleX(.96);">BGTA</div></div>
<div class="btn" style="left:111px;top:558px;width:99px;height:29px;line-height:26px;"><span class="bt">OK</span></div>
<div class="btn" style="left:307px;top:558px;width:98px;height:29px;line-height:24px;border:2px solid #0078d7;"><span class="bt">Apply</span></div>
<div class="btn" style="left:504px;top:558px;width:98px;height:29px;line-height:26px;"><span class="bt">Close</span></div>
<svg class="abs" style="left:699px;top:589px" width="12" height="12" viewBox="0 0 12 12"><g fill="#b8b8b8"><rect x="9" y="1" width="2" height="2"/><rect x="5" y="5" width="2" height="2"/><rect x="9" y="5" width="2" height="2"/><rect x="1" y="9" width="2" height="2"/><rect x="5" y="9" width="2" height="2"/><rect x="9" y="9" width="2" height="2"/></g></svg>
</div>
</body></html>
